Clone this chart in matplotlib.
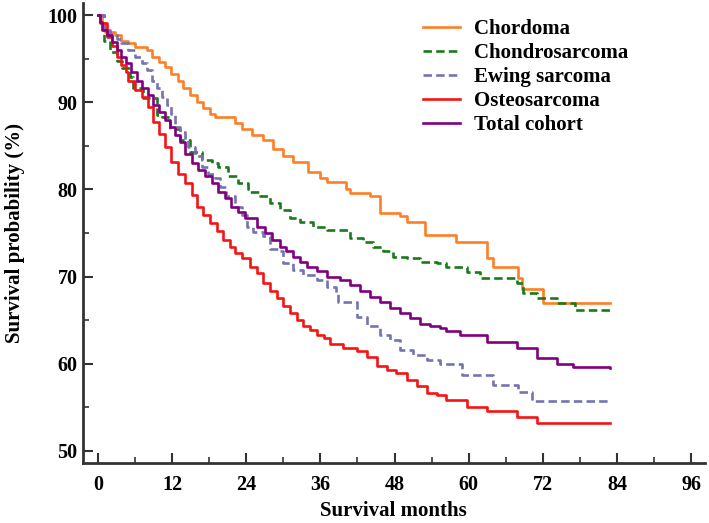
import numpy as np
import matplotlib
matplotlib.use("Agg")
import matplotlib.pyplot as plt

# Kaplan-Meier step curves (months, survival %)
chordoma_t = [0, 0.6, 1.1, 2.8, 3.8, 4.9, 6.0, 7.9, 8.7, 9.8, 10.8, 11.9, 13.0, 13.8,
              14.9, 16.0, 17.0, 18.1, 18.9, 22.2, 23.3, 24.9, 26.7, 28.3, 30.0, 31.6,
              34.0, 35.9, 37.0, 40.2, 40.8, 44.0, 45.6, 48.9, 50.0, 52.9, 57.9, 62.9,
              63.9, 68.0, 68.6, 72.0, 82.8]
chordoma_s = [100, 99.0, 98.1, 97.7, 97.1, 96.8, 96.4, 96.0, 95.2, 94.6, 94.1, 93.3, 92.5, 91.6,
              90.8, 90.1, 89.3, 88.7, 88.3, 87.6, 87.0, 86.2, 85.7, 84.7, 83.9, 83.2,
              82.0, 81.3, 80.9, 80.1, 79.6, 79.2, 77.3, 77.0, 76.3, 74.8, 74.0, 72.1,
              71.1, 69.8, 68.6, 67.0, 67.0]

chondro_t = [0, 0.9, 1.9, 3.0, 3.9, 5.2, 5.7, 7.3, 9.5, 10.3, 11.7, 13.3, 14.9, 16.8,
             18.4, 19.5, 21.1, 22.7, 24.3, 24.6, 26.2, 27.8, 29.4, 31.1, 32.7, 34.8,
             37.0, 40.8, 42.9, 44.5, 46.2, 47.8, 50.0, 52.1, 54.8, 56.4, 59.7, 61.8,
             67.8, 68.8, 71.0, 74.3, 77.2, 82.8]
chondro_s = [100, 97.1, 95.8, 94.8, 94.0, 92.9, 91.6, 90.5, 88.5, 88.3, 87.0, 85.7, 84.3, 83.4,
             83.0, 82.6, 81.5, 80.7, 80.1, 79.7, 79.2, 78.4, 77.6, 76.7, 76.3, 75.7,
             75.3, 74.4, 74.0, 73.4, 72.9, 72.3, 72.1, 71.7, 71.5, 71.1, 70.5, 69.8,
             69.3, 68.1, 67.5, 67.0, 66.1, 66.1]

ewing_t = [0, 0.9, 1.9, 3.0, 3.8, 4.9, 6.0, 7.1, 7.9, 8.7, 9.5, 10.3, 11.1, 11.9, 12.5,
           13.3, 14.1, 14.6, 15.7, 16.8, 17.8, 18.9, 19.7, 20.8, 22.2, 23.3, 24.1, 25.1,
           26.7, 27.8, 29.4, 30.0, 31.6, 33.2, 35.4, 37.0, 38.6, 38.9, 41.9, 43.5,
           45.6, 47.2, 48.9, 51.0, 53.2, 55.3, 58.9, 63.9, 68.0, 70.2, 82.8]
ewing_s = [100, 98.3, 97.9, 97.3, 96.8, 96.0, 95.2, 94.5, 93.7, 92.5, 91.6, 90.6, 89.7, 88.7, 87.2,
           86.6, 85.9, 84.9, 83.9, 82.6, 81.8, 81.3, 80.3, 79.2, 78.0, 77.1, 75.7, 75.1,
           74.6, 73.2, 72.9, 71.5, 70.8, 70.2, 69.6, 68.8, 68.1, 67.1, 65.4, 64.3,
           63.3, 62.7, 61.6, 61.0, 60.4, 59.9, 58.7, 57.5, 56.7, 55.7, 55.7]

osteo_t = [0, 0.3, 1.4, 2.2, 3.0, 3.8, 4.6, 4.9, 6.0, 7.1, 8.1, 8.9, 9.8, 10.8, 11.9,
           13.0, 14.1, 15.2, 16.0, 17.0, 18.1, 19.2, 20.3, 21.4, 22.2, 23.3, 24.6,
           25.7, 26.7, 27.8, 28.9, 30.0, 31.1, 32.2, 33.2, 34.3, 35.4, 36.5, 37.5,
           39.7, 41.9, 43.5, 45.1, 46.7, 48.3, 50.0, 51.6, 53.2, 54.8, 56.4, 59.7,
           62.9, 67.8, 71.0, 82.8]
osteo_s = [100, 99.1, 97.5, 96.5, 95.2, 94.3, 93.5, 92.5, 91.4, 90.6, 89.5, 87.8, 86.4, 84.9, 83.2,
           81.8, 80.7, 79.4, 78.0, 77.1, 76.1, 75.2, 74.2, 73.4, 72.7, 72.1, 71.1,
           70.4, 69.2, 68.3, 67.5, 66.6, 65.8, 65.0, 64.3, 63.9, 63.3, 62.9, 62.2,
           61.8, 61.4, 60.8, 59.7, 59.3, 58.9, 58.1, 57.4, 56.6, 56.4, 55.8, 55.0,
           54.5, 53.9, 53.2, 53.2]

total_t = [0, 0.3, 0.6, 1.4, 2.2, 3.0, 3.8, 4.6, 5.4, 6.3, 7.1, 8.1, 8.9, 9.8, 10.8,
           11.7, 12.5, 13.3, 14.1, 15.2, 16.2, 17.3, 18.4, 19.5, 20.6, 21.6, 22.7,
           23.8, 25.7, 27.0, 28.1, 29.4, 30.5, 31.6, 32.7, 33.8, 35.4, 37.0, 39.2,
           40.8, 42.4, 44.0, 45.6, 47.2, 48.9, 50.5, 52.1, 53.7, 55.3, 56.4, 58.6,
           62.9, 67.8, 71.0, 74.3, 76.9, 82.8]
total_s = [100, 99.2, 98.3, 97.7, 96.9, 96.0, 95.2, 94.5, 93.5, 92.5, 91.6, 90.8, 89.7, 88.9, 88.0,
           87.2, 86.2, 85.5, 84.1, 83.0, 82.2, 81.5, 80.7, 79.7, 79.0, 78.0, 77.4,
           76.7, 75.7, 75.0, 74.2, 73.4, 72.9, 72.3, 71.7, 71.1, 70.6, 70.0, 69.6,
           69.0, 68.3, 67.7, 67.1, 66.4, 65.8, 65.2, 64.6, 64.3, 64.1, 63.7, 63.3,
           62.5, 61.8, 60.7, 59.9, 59.6, 59.5]

series = [
    ("Chordoma", chordoma_t, chordoma_s, "#ff7f27", None),
    ("Chondrosarcoma", chondro_t, chondro_s, "#1a7a1a", (3.2, 1.6)),
    ("Ewing sarcoma", ewing_t, ewing_s, "#7474b0", (3.2, 1.6)),
    ("Osteosarcoma", osteo_t, osteo_s, "#f51414", None),
    ("Total cohort", total_t, total_s, "#800080", None),
]

plt.rcParams['font.family'] = ['Liberation Serif', 'DejaVu Serif']
plt.rcParams['font.weight'] = 'bold'

fig = plt.figure(figsize=(7.09, 5.23), dpi=100)
ax = fig.add_axes([0.117, 0.115, 0.877, 0.879])

for name, t, s, col, dash in series:
    line, = ax.step(t, s, where='post', color=col, lw=1.9, label=name)
    if dash is not None:
        line.set_dashes(dash)

ax.set_xlim(-2.43, 98.2)
ax.set_ylim(48.6, 101.4)
ax.set_xticks(np.arange(0, 97, 12))
ax.set_xticks(np.arange(6, 97, 12), minor=True)
ax.set_yticks(np.arange(50, 101, 10))
ax.set_yticks(np.arange(55, 100, 10), minor=True)

for side in ['top', 'right']:
    ax.spines[side].set_visible(False)
for side in ['left', 'bottom']:
    ax.spines[side].set_linewidth(2)
    ax.spines[side].set_color('#333333')

ax.tick_params(which='major', direction='in', length=7, width=1.5, color='#333333',
               labelsize=14.5)
ax.tick_params(which='minor', direction='in', length=4, width=1.2, color='#333333')
ax.tick_params(axis='x', which='major', pad=9)
ax.tick_params(axis='y', which='major', pad=4)
for lab in ax.get_xticklabels() + ax.get_yticklabels():
    lab.set_fontweight('bold')

ax.set_xlabel("Survival months", fontsize=15, fontweight='bold', labelpad=4)
ax.set_ylabel("Survival probability (%)", fontsize=15, fontweight='bold', labelpad=16)

leg = ax.legend(loc='upper left', bbox_to_anchor=(423 / 709, 1 - 19 / 523),
                bbox_transform=fig.transFigure, frameon=False,
                prop={'size': 15, 'weight': 'bold'}, handlelength=1.76,
                handletextpad=0.67, labelspacing=0.19, borderpad=0, borderaxespad=0)

fig.savefig("out.png", dpi=100)
